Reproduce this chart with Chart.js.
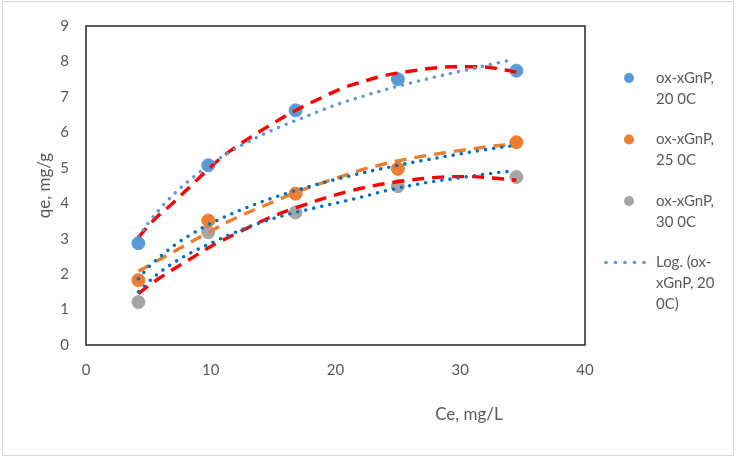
<!DOCTYPE html>
<html>
<head>
<meta charset="utf-8">
<script src="https://cdn.jsdelivr.net/npm/chart.js@4.4.1/dist/chart.umd.min.js"></script>
<style>
  body { margin: 0; background: #fff; }
  canvas { display: block; }
</style>
</head>
<body>
<canvas id="myChart" width="736" height="460"></canvas>
<script>
// measured points
const ce = [4.2, 9.8, 16.8, 25.0, 34.5];
const qe20 = [2.87, 5.07, 6.62, 7.5, 7.74];
const qe25 = [1.83, 3.51, 4.27, 4.97, 5.72];
const qe30 = [1.21, 3.18, 3.74, 4.48, 4.74];

// trendlines
const logX20 = [4.2, 5, 6, 7, 8, 10, 12, 14, 16, 18, 20, 22.5, 25, 28, 31, 33.8];
const logY20 = [3.05, 3.45, 3.87, 4.24, 4.56, 5.1, 5.54, 5.91, 6.22, 6.5, 6.77, 7.05, 7.3, 7.56, 7.8, 8.02];
const polyX20 = [4.2, 5.5, 6.8, 8.2, 10.2, 11.5, 13.1, 14.7, 16.2, 17.7, 19.2, 20.6, 22.2, 23.8, 25.7, 27.5, 29.5, 31.5, 33, 34.5];
const polyY20 = [3.04, 3.55, 3.95, 4.42, 5.09, 5.46, 5.84, 6.19, 6.5, 6.78, 7.03, 7.25, 7.43, 7.59, 7.71, 7.8, 7.85, 7.85, 7.8, 7.7];

const logX25 = [4.2, 5, 6, 7, 8, 10, 12, 14, 16, 18, 20, 23, 26, 29, 32, 34.2];
const logY25 = [1.87, 2.19, 2.51, 2.79, 3.03, 3.43, 3.75, 4.03, 4.27, 4.48, 4.67, 4.92, 5.14, 5.33, 5.51, 5.62];
const polyX25 = [4.2, 6.5, 8.7, 11.8, 14.9, 17, 19.5, 22.7, 25.9, 29.3, 32.6, 34.5];
const polyY25 = [2.08, 2.53, 2.96, 3.55, 4.02, 4.33, 4.64, 5.0, 5.26, 5.45, 5.61, 5.67];

const logX30 = [4.2, 4.6, 5.5, 6.85, 8.3, 10.05, 11.7, 13.4, 16, 19, 21.7, 24.5, 27.3, 30, 32.9, 34.3];
const logY30 = [1.5, 1.64, 1.93, 2.28, 2.58, 2.88, 3.14, 3.38, 3.67, 3.92, 4.14, 4.39, 4.58, 4.72, 4.86, 4.91];
const polyX30 = [4.2, 5.6, 7.2, 8.6, 10, 11.6, 13.1, 14.7, 16.3, 17.9, 19.4, 21, 22.7, 24.3, 25.9, 27.5, 29.3, 31, 32.6, 34.5];
const polyY30 = [1.45, 1.82, 2.18, 2.48, 2.78, 3.07, 3.33, 3.59, 3.81, 4.0, 4.17, 4.33, 4.47, 4.57, 4.65, 4.71, 4.75, 4.75, 4.71, 4.65];

const legendLabels = [
    ['ox-xGnP,', '20 0C'],
    ['ox-xGnP,', '25 0C'],
    ['ox-xGnP,', '30 0C'],
    ['Log. (ox-', 'xGnP, 20', '0C)']
];
const xTitle = 'Ce, mg/L';
const yTitle = 'qe, mg/g';

const blue = '#5B9BD5', orange = '#ED7D31', gray = '#A5A5A5';
const darkBlue = '#0070C0', red = '#FF0000';
const textColor = '#595959';
const fontFamily = 'Lato, "Open Sans", sans-serif';

const pts = (xs, ys) => xs.map((x, i) => ({ x: x, y: ys[i] }));

function markers(ys, color) {
    return {
        data: pts(ce, ys),
        backgroundColor: color,
        borderColor: color,
        pointRadius: 6.5,
        pointHoverRadius: 6.5,
        showLine: false,
        order: 2
    };
}

function trend(xs, ys, color, style) {
    const dotted = style === 'dot';
    return {
        data: pts(xs, ys),
        showLine: true,
        borderColor: color,
        borderWidth: dotted ? 3.6 : 3.4,
        borderDash: dotted ? [0, 8.2] : [12, 8],
        borderCapStyle: dotted ? 'round' : 'butt',
        cubicInterpolationMode: 'monotone',
        pointRadius: 0,
        fill: false,
        order: 1
    };
}

const chrome = {
    id: 'chrome',
    beforeDraw(chart) {
        const ctx = chart.ctx;
        ctx.save();
        ctx.strokeStyle = '#D9D9D9';
        ctx.lineWidth = 1;
        ctx.strokeRect(2.5, 1.5, 731, 454);
        ctx.restore();
    },
    afterDraw(chart) {
        const ctx = chart.ctx;
        const a = chart.chartArea;
        ctx.save();
        // plot frame
        ctx.strokeStyle = '#262626';
        ctx.lineWidth = 1.5;
        ctx.strokeRect(a.left, a.top, a.right - a.left, a.bottom - a.top);

        // axis titles
        ctx.fillStyle = textColor;
        ctx.font = '17px ' + fontFamily;
        ctx.textAlign = 'center';
        ctx.textBaseline = 'middle';
        ctx.fillText(xTitle, chart.scales.x.getPixelForValue(30.7), 415);
        ctx.translate(45, (a.top + a.bottom) / 2);
        ctx.rotate(-Math.PI / 2);
        ctx.fillText(yTitle, 0, 0);
        ctx.restore();

        // legend
        ctx.save();
        ctx.font = '15px ' + fontFamily;
        ctx.fillStyle = textColor;
        ctx.textAlign = 'left';
        ctx.textBaseline = 'middle';
        const colors = [blue, orange, gray];
        legendLabels.forEach((lines, i) => {
            const y0 = 78 + i * 61.5;
            if (i < 3) {
                ctx.beginPath();
                ctx.arc(629, y0, 5, 0, Math.PI * 2);
                ctx.fillStyle = colors[i];
                ctx.fill();
            } else {
                ctx.fillStyle = blue;
                for (let k = 0; k < 5; k++) {
                    ctx.beginPath();
                    ctx.arc(606 + k * 9.5, y0, 1.8, 0, Math.PI * 2);
                    ctx.fill();
                }
            }
            ctx.fillStyle = textColor;
            lines.forEach((t, k) => ctx.fillText(t, 656, y0 + k * 21));
        });
        ctx.restore();
    }
};

const config = {
    type: 'scatter',
    data: {
        datasets: [
            markers(qe20, blue),
            markers(qe25, orange),
            markers(qe30, gray),
            trend(logX20, logY20, blue, 'dot'),
            trend(polyX20, polyY20, red, 'dash'),
            trend(logX25, logY25, darkBlue, 'dot'),
            trend(polyX25, polyY25, orange, 'dash'),
            trend(logX30, logY30, darkBlue, 'dot'),
            trend(polyX30, polyY30, red, 'dash')
        ]
    },
    options: {
        responsive: false,
        animation: false,
        events: [],
        layout: {
            padding: { left: 0, top: 26, right: 151, bottom: 0 }
        },
        scales: {
            x: {
                type: 'linear',
                min: 0,
                max: 40,
                grid: { display: false, drawTicks: false },
                border: { display: false },
                ticks: {
                    stepSize: 10,
                    padding: 16,
                    color: textColor,
                    font: { family: fontFamily, size: 15 }
                },
                afterFit(scale) { scale.height = 115; }
            },
            y: {
                min: 0,
                max: 9,
                grid: { display: false, drawTicks: false },
                border: { display: false },
                ticks: {
                    stepSize: 1,
                    padding: 17,
                    color: textColor,
                    font: { family: fontFamily, size: 15 }
                },
                afterFit(scale) { scale.width = 86; }
            }
        },
        plugins: {
            legend: { display: false },
            tooltip: { enabled: false }
        }
    },
    plugins: [chrome]
};

const myChart = new Chart('myChart', config);
</script>
</body>
</html>
